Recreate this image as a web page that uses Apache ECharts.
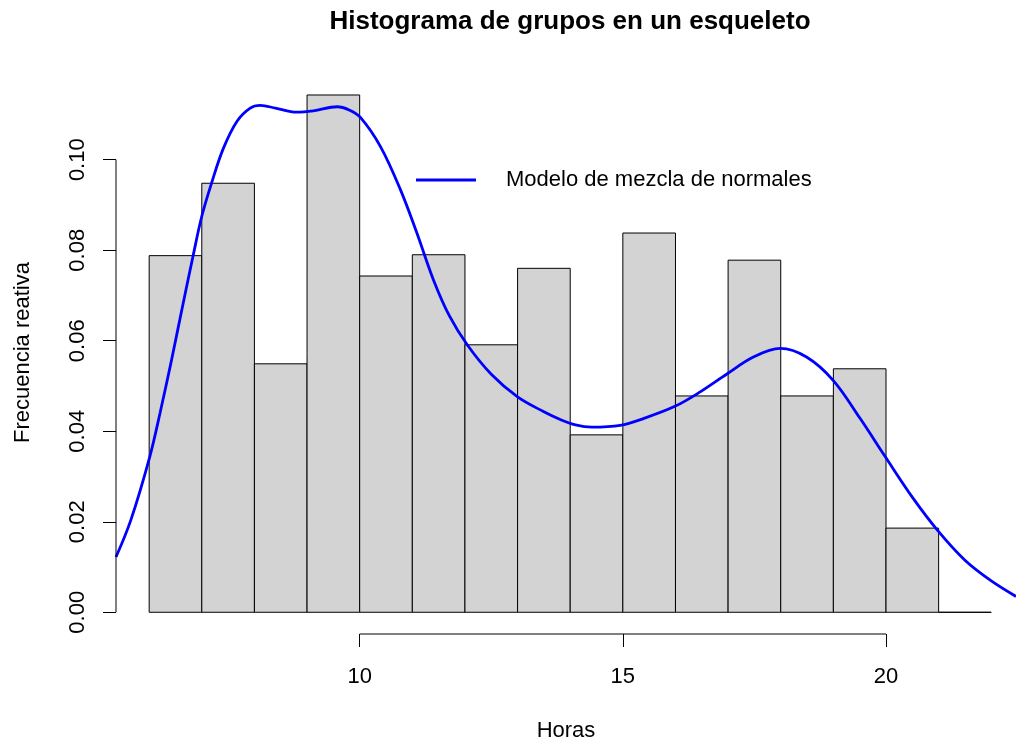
<!DOCTYPE html>
<html>
<head>
<meta charset="utf-8">
<title>Histograma de grupos en un esqueleto</title>
<script src="https://cdn.jsdelivr.net/npm/echarts@6.0.0/dist/echarts.min.js"></script>
<style>
  html, body { margin: 0; padding: 0; background: #fff; overflow: hidden; }
  #main { width: 1016px; height: 740px; }
</style>
</head>
<body>
<div id="main"></div>
<script>
// bordes de los intervalos (horas) y densidad de cada uno
var breaks = [6, 7, 8, 9, 10, 11, 12, 13, 14, 15, 16, 17, 18, 19, 20, 21, 22];
var density = [0.0788, 0.0948, 0.0549, 0.1143, 0.0743, 0.0790, 0.0591, 0.0760,
               0.0392, 0.0838, 0.0478, 0.0778, 0.0478, 0.0538, 0.0186, 0];

// curva del modelo de mezcla de normales
var curveX = [5.37, 5.65, 6.01, 6.21, 6.43, 6.62, 6.83, 7.00, 7.19, 7.41, 7.67, 7.92,
              8.11, 8.40, 8.80, 9.12, 9.57, 9.80, 10.01, 10.39, 10.77, 11.09, 11.40,
              11.70, 12.05, 12.50, 13.00, 13.50, 13.81, 14.10, 14.41, 14.95, 15.39,
              15.99, 16.47, 16.97, 17.48, 17.99, 18.49, 19.00, 19.51, 19.99, 20.52,
              20.98, 21.50, 21.98, 22.47];
var curveY = [0.0122, 0.0203, 0.0343, 0.0442, 0.0560, 0.0668, 0.0785, 0.0875, 0.0950,
              0.1025, 0.1085, 0.1114, 0.1120, 0.1114, 0.1105, 0.1108, 0.1117, 0.1110,
              0.1094, 0.1030, 0.0935, 0.0837, 0.0735, 0.0656, 0.0590, 0.0526, 0.0476,
              0.0443, 0.0426, 0.0414, 0.0409, 0.0413, 0.0428, 0.0455, 0.0487, 0.0526,
              0.0564, 0.0583, 0.0564, 0.0512, 0.0428, 0.0343, 0.0251, 0.0181, 0.0115,
              0.0071, 0.0035];

var xTicks = [10, 15, 20];
var yTicks = [0, 0.02, 0.04, 0.06, 0.08, 0.10];

var xMin = 5.37, xMax = 22.47;
var yMin = -0.0048, yMax = 0.1196;

var FONT = '"Liberation Sans", Arial, Helvetica, sans-serif';

var bins = density.map(function (d, i) {
  return [breaks[i], breaks[i + 1], d];
});
var curve = curveX.map(function (x, i) {
  return [x, curveY[i]];
});

var myChart = echarts.init(document.getElementById('main'), null, { width: 1016, height: 740 });
myChart.setOption({
  animation: false,
  backgroundColor: '#fff',
  title: {
    text: 'Histograma de grupos en un esqueleto',
    left: 565,
    top: 4,
    textAlign: 'center',
    textStyle: { fontFamily: FONT, fontSize: 26, fontWeight: 'bold', color: '#000' }
  },
  legend: {
    data: [{ name: 'Modelo de mezcla de normales', icon: 'rect' }],
    left: 411,
    top: 164,
    itemWidth: 60,
    itemHeight: 3,
    selectedMode: false,
    textStyle: { fontFamily: FONT, fontSize: 22, color: '#000', padding: [0, 0, 0, 25] }
  },
  grid: { left: 116, right: 0, top: 71, bottom: 106, outerBoundsMode: 'none' },
  xAxis: {
    type: 'value',
    min: xMin,
    max: xMax,
    name: 'Horas',
    nameLocation: 'middle',
    nameGap: 86,
    nameTextStyle: { fontFamily: FONT, fontSize: 22, color: '#000' },
    axisLine: { show: false, onZero: false },
    splitLine: { show: false },
    axisTick: { show: true, length: 13, customValues: xTicks, lineStyle: { color: '#000' } },
    axisLabel: { customValues: xTicks, margin: 32, fontFamily: FONT, fontSize: 22, color: '#000' }
  },
  yAxis: {
    type: 'value',
    min: yMin,
    max: yMax,
    name: 'Frecuencia reativa',
    nameLocation: 'middle',
    nameGap: 82,
    nameTextStyle: { fontFamily: FONT, fontSize: 22, color: '#000' },
    axisLine: { show: false, onZero: false },
    splitLine: { show: false },
    axisTick: { show: true, length: 13, customValues: yTicks, lineStyle: { color: '#000' } },
    axisLabel: {
      customValues: yTicks,
      rotate: 90,
      margin: 27,
      fontFamily: FONT,
      fontSize: 22,
      color: '#000',
      formatter: function (v) { return v.toFixed(2); }
    }
  },
  series: [
    {
      name: 'Frecuencia',
      type: 'custom',
      data: bins,
      encode: { x: [0, 1], y: 2 },
      renderItem: function (params, api) {
        var p0 = api.coord([api.value(0), 0]);
        var p1 = api.coord([api.value(1), api.value(2)]);
        return {
          type: 'rect',
          shape: { x: p0[0], y: p1[1], width: p1[0] - p0[0], height: p0[1] - p1[1] },
          style: { fill: '#d3d3d3', stroke: '#000', lineWidth: 1 }
        };
      },
      silent: true
    },
    {
      name: 'Modelo de mezcla de normales',
      type: 'line',
      data: curve,
      smooth: 0.35,
      symbol: 'none',
      clip: true,
      color: '#0000ff',
      lineStyle: { color: '#0000ff', width: 2.8 },
      silent: true
    },
    {
      // eje x (solo entre el primer y el ultimo tick, como en R)
      name: 'ejeX',
      type: 'line',
      data: [[xTicks[0], yMin], [xTicks[xTicks.length - 1], yMin]],
      symbol: 'none',
      clip: false,
      lineStyle: { color: '#000', width: 1 },
      silent: true
    },
    {
      name: 'ejeY',
      type: 'line',
      data: [[xMin, yTicks[0]], [xMin, yTicks[yTicks.length - 1]]],
      symbol: 'none',
      clip: false,
      lineStyle: { color: '#000', width: 1 },
      silent: true
    }
  ]
});
</script>
</body>
</html>
